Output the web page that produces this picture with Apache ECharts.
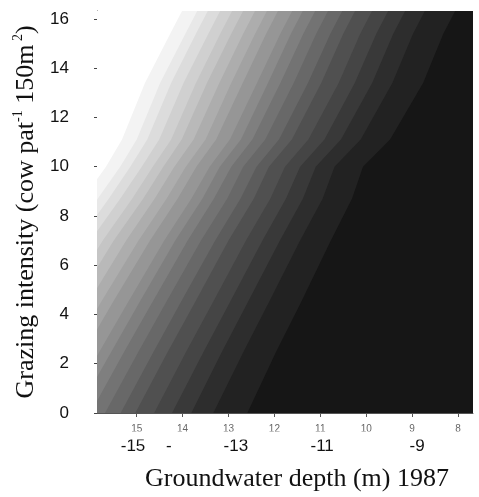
<!DOCTYPE html>
<html>
<head>
<meta charset="utf-8">
<script src="https://cdn.jsdelivr.net/npm/echarts@6/dist/echarts.min.js"></script>
<style>
  html, body { margin: 0; padding: 0; background: #ffffff; }
  #chart { width: 479px; height: 497px; }
</style>
</head>
<body>
<div id="chart"></div>
<script>
// Grazing intensity rows at which each isoline is sampled
const grazingRows = [0, 2.5, 4.5, 7, 8.7, 10, 11.1, 13.4, 15.4, 16.4];

// Groundwater depth (m) of each contour isoline at the rows above, lightest to darkest
const isoline01 = [-19.26, -18.41, -17.74, -16.85, -16.17, -15.67, -15.32, -14.82, -14.27, -13.99];
const isoline02 = [-18.89, -18.06, -17.39, -16.52, -15.85, -15.36, -15.00, -14.49, -13.94, -13.66];
const isoline03 = [-18.63, -17.80, -17.14, -16.27, -15.61, -15.14, -14.77, -14.25, -13.71, -13.43];
const isoline04 = [-18.33, -17.51, -16.86, -16.01, -15.36, -14.89, -14.51, -13.98, -13.44, -13.16];
const isoline05 = [-18.04, -17.23, -16.58, -15.74, -15.10, -14.65, -14.25, -13.71, -13.18, -12.90];
const isoline06 = [-17.77, -16.97, -16.33, -15.50, -14.86, -14.42, -14.02, -13.47, -12.94, -12.66];
const isoline07 = [-17.48, -16.69, -16.05, -15.23, -14.61, -14.18, -13.76, -13.20, -12.68, -12.40];
const isoline08 = [-17.19, -16.40, -15.78, -14.96, -14.35, -13.93, -13.50, -12.94, -12.42, -12.14];
const isoline09 = [-16.91, -16.14, -15.52, -14.71, -14.11, -13.70, -13.27, -12.69, -12.18, -11.90];
const isoline10 = [-16.57, -15.81, -15.19, -14.40, -13.81, -13.41, -12.97, -12.38, -11.87, -11.59];
const isoline11 = [-16.31, -15.55, -14.94, -14.16, -13.57, -13.19, -12.73, -12.14, -11.64, -11.36];
const isoline12 = [-16.01, -15.27, -14.66, -13.89, -13.32, -12.94, -12.48, -11.87, -11.37, -11.09];
const isoline13 = [-15.69, -14.96, -14.36, -13.60, -13.03, -12.68, -12.20, -11.58, -11.09, -10.81];
const isoline14 = [-15.35, -14.63, -14.04, -13.29, -12.74, -12.39, -11.90, -11.27, -10.78, -10.50];
const isoline15 = [-15.03, -14.32, -13.73, -13.00, -12.45, -12.12, -11.62, -10.98, -10.50, -10.22];
const isoline16 = [-14.62, -13.92, -13.34, -12.62, -12.09, -11.77, -11.26, -10.60, -10.13, -9.85];
const isoline17 = [-14.23, -13.54, -12.97, -12.26, -11.75, -11.44, -10.91, -10.25, -9.78, -9.50];
const isoline18 = [-13.81, -13.14, -12.58, -11.88, -11.38, -11.10, -10.55, -9.87, -9.41, -9.13];
const isoline19 = [-13.33, -12.67, -12.12, -11.44, -10.95, -10.69, -10.12, -9.43, -8.98, -8.70];
const isoline20 = [-12.59, -11.96, -11.42, -10.77, -10.31, -10.07, -9.48, -8.76, -8.32, -8.04];

const isolines = [
  isoline01, isoline02, isoline03, isoline04, isoline05,
  isoline06, isoline07, isoline08, isoline09, isoline10,
  isoline11, isoline12, isoline13, isoline14, isoline15,
  isoline16, isoline17, isoline18, isoline19, isoline20
];

// Tick labels
const yTicks = [0, 2, 4, 6, 8, 10, 12, 14, 16];
const xTicks = [-15, -14, -13, -12, -11, -10, -9, -8];
const xTickText = ['15', '14', '13', '12', '11', '10', '9', '8'];
const xMainTicks = [-15.08, -14.3, -12.84, -10.96, -8.89];
const xMainText = ['-15', '-', '-13', '-11', '-9'];

// Axis extents
const xMin = -15.865, xMax = -7.673;
const yMin = 0, yMax = 16.32;

// Grey fill of each band: white on the shallow side down to near black
const bandCount = isolines.length + 1;
const bandShades = [];
for (let j = 0; j < bandCount; j++) {
  const g = Math.round(255 - j * (233 / (bandCount - 1)));
  bandShades.push('rgb(' + g + ',' + g + ',' + g + ')');
}

const farLeft = -25, farRight = -5;

const chart = echarts.init(document.getElementById('chart'), null, { renderer: 'canvas' });

const narrowFont = "'Liberation Sans Narrow', 'Liberation Sans', Arial, sans-serif";
const sansFont = "'Liberation Sans', Arial, sans-serif";
const serifFont = "'Liberation Serif', 'Times New Roman', serif";

chart.setOption({
  animation: false,
  backgroundColor: '#ffffff',
  grid: { left: 97, right: 6, top: 11, bottom: 82, containLabel: false },
  xAxis: [
    {
      type: 'value',
      min: xMin,
      max: xMax,
      position: 'bottom',
      splitLine: { show: false },
      axisLine: { show: true, lineStyle: { color: '#555', width: 1 } },
      axisTick: { show: true, length: 4, lineStyle: { color: '#555' }, customValues: xTicks },
      axisLabel: {
        show: true,
        customValues: xTicks,
        margin: 11,
        fontSize: 10,
        color: '#666',
        fontFamily: sansFont,
        formatter: function (v) {
          const i = xTicks.findIndex(t => Math.abs(t - v) < 1e-6);
          return i >= 0 ? xTickText[i] : '';
        }
      },
      name: 'Groundwater depth (m) 1987',
      nameLocation: 'middle',
      nameGap: 53,
      nameTextStyle: {
        fontFamily: serifFont,
        fontSize: 26,
        color: '#111',
        padding: [0, 0, 0, 24]
      }
    },
    {
      type: 'value',
      min: xMin,
      max: xMax,
      position: 'bottom',
      offset: 0,
      splitLine: { show: false },
      axisLine: { show: false },
      axisTick: { show: false },
      axisLabel: {
        show: true,
        customValues: xMainTicks,
        margin: 25,
        fontSize: 17,
        color: '#111',
        fontFamily: sansFont,
        formatter: function (v) {
          const i = xMainTicks.findIndex(t => Math.abs(t - v) < 1e-6);
          return i >= 0 ? xMainText[i] : '';
        }
      }
    }
  ],
  yAxis: {
    type: 'value',
    min: yMin,
    max: yMax,
    splitLine: { show: false },
    axisLine: { show: true, lineStyle: { color: '#444', width: 1 } },
    axisTick: { show: true, length: 3, lineStyle: { color: '#444' }, customValues: yTicks },
    axisLabel: {
      customValues: yTicks,
      margin: 28,
      fontSize: 17,
      color: '#111',
      fontFamily: narrowFont
    },
    name: 'Grazing intensity (cow pat{sup|-1} 150m{sup| 2})',
    nameLocation: 'middle',
    nameGap: 50,
    nameTextStyle: {
      fontFamily: serifFont,
      fontSize: 26,
      color: '#111',
      rich: {
        sup: { fontFamily: serifFont, fontSize: 14, color: '#111', verticalAlign: 'top', lineHeight: 30 }
      }
    }
  },
  graphic: [
    {
      // mask that trims the lower half of the small depth tick labels
      type: 'rect',
      z: 100,
      shape: { x: 90, y: 431.5, width: 389, height: 8 },
      style: { fill: '#ffffff' },
      silent: true
    }
  ],
  series: [
    {
      type: 'custom',
      coordinateSystem: 'cartesian2d',
      xAxisIndex: 0,
      yAxisIndex: 0,
      clip: true,
      data: bandShades.map((c, j) => [j]),
      renderItem: function (params, api) {
        const j = params.dataIndex;
        const last = grazingRows.length - 1;
        const pts = [];
        if (j === 0) {
          pts.push(api.coord([farLeft, grazingRows[0]]));
          pts.push(api.coord([farLeft, grazingRows[last]]));
        } else {
          const line = isolines[j - 1];
          for (let r = 0; r < grazingRows.length; r++) {
            pts.push(api.coord([line[r], grazingRows[r]]));
          }
        }
        pts.push(api.coord([farRight, grazingRows[last]]));
        pts.push(api.coord([farRight, grazingRows[0]]));
        return {
          type: 'polygon',
          shape: { points: pts },
          style: { fill: bandShades[j] }
        };
      }
    }
  ]
});
</script>
</body>
</html>
